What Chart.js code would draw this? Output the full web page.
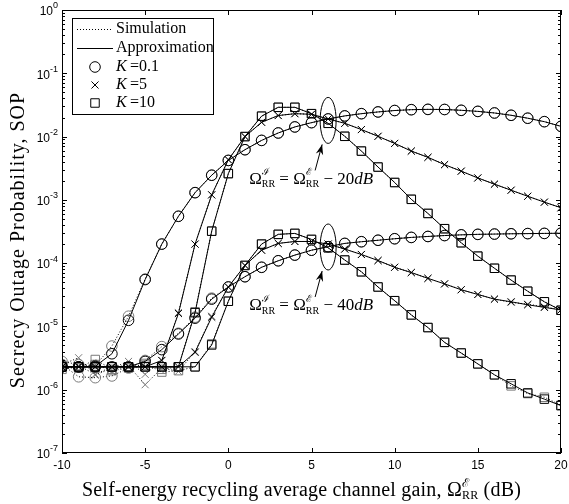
<!DOCTYPE html>
<html>
<head>
<meta charset="utf-8">
<script src="https://cdn.jsdelivr.net/npm/chart.js@4.4.1/dist/chart.umd.min.js"></script>
<style>
html, body { margin: 0; padding: 0; background: #fff; }
#wrap { width: 569px; height: 504px; }
</style>
</head>
<body>
<div id="wrap"><canvas id="sopChart" width="569" height="504"></canvas></div>
<script>
// x axis: self-energy recycling gain in dB
const gainDb = [-10, -9, -8, -7, -6, -5, -4, -3, -2, -1, 0, 1, 2, 3, 4, 5, 6, 7, 8, 9, 10,
                11, 12, 13, 14, 15, 16, 17, 18, 19, 20];
const xTickValues = [-10, -5, 0, 5, 10, 15, 20];
const yDecades = [0, -1, -2, -3, -4, -5, -6, -7];

// Omega_I = Omega_E - 20 dB
const approxUpperK01 = [2.3e-6, 2.3e-6, 2.35e-6, 3.7e-6, 1.25e-5, 5.5e-5, 2.0e-4, 5.5e-4, 1.3e-3, 2.45e-3,
  4.2e-3, 6.2e-3, 8.7e-3, 1.14e-2, 1.42e-2, 1.66e-2, 1.9e-2, 2.12e-2, 2.3e-2, 2.45e-2,
  2.58e-2, 2.66e-2, 2.69e-2, 2.68e-2, 2.6e-2, 2.5e-2, 2.36e-2, 2.17e-2, 1.95e-2, 1.72e-2, 1.45e-2];
const simUpperK01 = [2.8e-6, 2.5e-6, 2.4e-6, 4.9e-6, 1.45e-5, 5.6e-5, 2.0e-4, 5.5e-4, 1.3e-3, 2.45e-3,
  4.2e-3, 6.2e-3, 8.7e-3, 1.14e-2, 1.42e-2, 1.66e-2, 1.9e-2, 2.12e-2, 2.3e-2, 2.45e-2,
  2.58e-2, 2.66e-2, 2.69e-2, 2.68e-2, 2.6e-2, 2.5e-2, 2.36e-2, 2.17e-2, 1.95e-2, 1.72e-2, 1.45e-2];
const approxUpperK5 = [2.3e-6, 2.3e-6, 2.3e-6, 2.3e-6, 2.3e-6, 2.3e-6, 2.9e-6, 1.6e-5, 2.0e-4, 1.2e-3,
  4.3e-3, 1.0e-2, 1.68e-2, 2.15e-2, 2.3e-2, 2.25e-2, 1.9e-2, 1.62e-2, 1.29e-2, 1.01e-2,
  7.8e-3, 5.9e-3, 4.7e-3, 3.6e-3, 2.84e-3, 2.22e-3, 1.77e-3, 1.42e-3, 1.14e-3, 9.2e-4, 7.5e-4];
const simUpperK5 = [2.5e-6, 3.2e-6, 1.7e-6, 2.2e-6, 2.8e-6, 1.75e-6, 2.9e-6, 1.65e-5, 2.0e-4, 1.2e-3,
  4.3e-3, 1.0e-2, 1.68e-2, 2.15e-2, 2.3e-2, 2.25e-2, 1.9e-2, 1.62e-2, 1.29e-2, 1.01e-2,
  7.8e-3, 5.9e-3, 4.7e-3, 3.6e-3, 2.84e-3, 2.22e-3, 1.77e-3, 1.42e-3, 1.14e-3, 9.2e-4, 7.5e-4];
const approxUpperK10 = [2.3e-6, 2.3e-6, 2.3e-6, 2.3e-6, 2.3e-6, 2.3e-6, 2.3e-6, 2.3e-6, 1.65e-5, 3.2e-4,
  2.6e-3, 1.0e-2, 2.1e-2, 2.9e-2, 2.9e-2, 2.3e-2, 1.62e-2, 1.01e-2, 5.9e-3, 3.3e-3,
  1.88e-3, 1.02e-3, 6.1e-4, 3.5e-4, 2.1e-4, 1.29e-4, 8.3e-5, 5.4e-5, 3.6e-5, 2.45e-5, 1.8e-5];
const simUpperK10 = [2.3e-6, 2.2e-6, 3.0e-6, 2.1e-6, 2.3e-6, 2.45e-6, 2.1e-6, 2.3e-6, 1.7e-5, 3.2e-4,
  2.6e-3, 1.0e-2, 2.1e-2, 2.9e-2, 2.9e-2, 2.3e-2, 1.62e-2, 1.01e-2, 5.9e-3, 3.3e-3,
  1.88e-3, 1.02e-3, 6.1e-4, 3.5e-4, 2.1e-4, 1.29e-4, 8.3e-5, 5.4e-5, 3.6e-5, 2.45e-5, 1.8e-5];

// Omega_I = Omega_E - 40 dB
const approxLowerK01 = [2.3e-6, 2.3e-6, 2.3e-6, 2.3e-6, 2.3e-6, 2.8e-6, 4.3e-6, 7.6e-6, 1.35e-5, 2.7e-5,
  4.2e-5, 6.1e-5, 8.6e-5, 1.09e-4, 1.34e-4, 1.6e-4, 1.82e-4, 2.05e-4, 2.18e-4, 2.3e-4,
  2.43e-4, 2.55e-4, 2.64e-4, 2.73e-4, 2.8e-4, 2.85e-4, 2.88e-4, 2.91e-4, 2.93e-4, 2.95e-4, 2.97e-4];
const simLowerK01 = [2.5e-6, 1.6e-6, 1.55e-6, 1.65e-6, 2.2e-6, 2.9e-6, 4.8e-6, 7.8e-6, 1.4e-5, 2.8e-5,
  4.2e-5, 6.1e-5, 8.6e-5, 1.09e-4, 1.34e-4, 1.6e-4, 1.82e-4, 2.05e-4, 2.18e-4, 2.3e-4,
  2.43e-4, 2.55e-4, 2.64e-4, 2.73e-4, 2.8e-4, 2.85e-4, 2.88e-4, 2.91e-4, 2.93e-4, 2.95e-4, 2.97e-4];
const approxLowerK5 = [2.3e-6, 2.3e-6, 2.3e-6, 2.3e-6, 2.3e-6, 2.3e-6, 2.3e-6, 2.3e-6, 3.9e-6, 1.4e-5,
  4.2e-5, 9.2e-5, 1.6e-4, 2.05e-4, 2.2e-4, 2.2e-4, 2.0e-4, 1.67e-4, 1.37e-4, 1.1e-4,
  8.6e-5, 7.1e-5, 5.75e-5, 4.7e-5, 3.8e-5, 3.2e-5, 2.7e-5, 2.45e-5, 2.2e-5, 2.0e-5, 1.82e-5];
const simLowerK5 = [2.2e-6, 2.4e-6, 1.75e-6, 2.3e-6, 2.4e-6, 1.2e-6, 2.2e-6, 1.95e-6, 4.0e-6, 1.45e-5,
  4.2e-5, 9.2e-5, 1.6e-4, 2.05e-4, 2.2e-4, 2.2e-4, 2.0e-4, 1.67e-4, 1.37e-4, 1.1e-4,
  8.6e-5, 7.1e-5, 5.75e-5, 4.7e-5, 3.8e-5, 3.2e-5, 2.7e-5, 2.4e-5, 2.25e-5, 2.05e-5, 1.82e-5];
const approxLowerK10 = [2.3e-6, 2.3e-6, 2.3e-6, 2.3e-6, 2.3e-6, 2.3e-6, 2.3e-6, 2.3e-6, 2.3e-6, 5.1e-6,
  2.5e-5, 9.2e-5, 2.0e-4, 2.85e-4, 2.95e-4, 2.37e-4, 1.75e-4, 1.12e-4, 7.3e-5, 4.2e-5,
  2.55e-5, 1.52e-5, 9.6e-6, 5.6e-6, 3.8e-6, 2.56e-6, 1.72e-6, 1.24e-6, 8.9e-7, 7.1e-7, 5.6e-7];
const simLowerK10 = [2.1e-6, 2.3e-6, 2.5e-6, 2.0e-6, 2.2e-6, 2.6e-6, 1.9e-6, 2.0e-6, 2.3e-6, 5.3e-6,
  2.5e-5, 9.2e-5, 2.0e-4, 2.85e-4, 2.95e-4, 2.37e-4, 1.75e-4, 1.12e-4, 7.3e-5, 4.2e-5,
  2.55e-5, 1.52e-5, 9.6e-6, 5.6e-6, 3.8e-6, 2.56e-6, 1.72e-6, 1.15e-6, 8.7e-7, 7.6e-7, 5.7e-7];

// ellipse centres marking the two groups (dB, SOP)
const groupMarks = [
  { x: 6, y: 1.8e-2, gap: '20' },
  { x: 6, y: 1.8e-4, gap: '40' }
];

const SERIF = '"Liberation Serif", "Times New Roman", serif';
const SANS = '"Liberation Sans", Arial, sans-serif';

function pts(values) {
  return values.map((v, i) => ({ x: gainDb[i], y: v }));
}

const markerSize = { circle: 5.3, crossRot: 5, rect: 6 };

function approxSet(values, style) {
  return {
    data: pts(values),
    borderColor: '#000',
    borderWidth: 1,
    pointStyle: style,
    pointRadius: markerSize[style],
    pointBorderColor: '#000',
    pointBackgroundColor: 'rgba(0,0,0,0)',
    pointBorderWidth: 1,
    fill: false,
    tension: 0,
    order: 1
  };
}

function simSet(values, style) {
  return {
    data: pts(values),
    borderColor: '#000',
    borderWidth: 1,
    borderDash: [1, 2],
    pointStyle: style,
    pointRadius: markerSize[style],
    pointBorderColor: '#7a7a7a',
    pointBackgroundColor: 'rgba(0,0,0,0)',
    pointBorderWidth: 1,
    fill: false,
    tension: 0,
    order: 2
  };
}

// draws text runs with raised / lowered pieces
function drawRich(ctx, parts, x, y, align, spacing) {
  ctx.letterSpacing = (spacing || 0) + 'px';
  let w = 0;
  parts.forEach(p => {
    ctx.font = p.f;
    if (!p.keep) w += ctx.measureText(p.t).width;
  });
  let cx = align === 'center' ? x - w / 2 : (align === 'right' ? x - w : x);
  ctx.textAlign = 'left';
  parts.forEach(p => {
    ctx.font = p.f;
    ctx.fillText(p.t, cx, y + (p.dy || 0));
    if (!p.keep) cx += ctx.measureText(p.t).width;
  });
  ctx.letterSpacing = '0px';
}

function drawMarker(ctx, style, x, y) {
  const r = markerSize[style];
  ctx.beginPath();
  if (style === 'circle') {
    ctx.arc(x, y, r, 0, Math.PI * 2);
  } else if (style === 'rect') {
    const s = r * Math.SQRT1_2;
    ctx.rect(x - s, y - s, 2 * s, 2 * s);
  } else {
    const s = r * Math.SQRT1_2;
    ctx.moveTo(x - s, y - s); ctx.lineTo(x + s, y + s);
    ctx.moveTo(x + s, y - s); ctx.lineTo(x - s, y + s);
  }
  ctx.stroke();
}

const decorations = {
  id: 'decorations',
  afterDatasetsDraw(chart) {
    const { ctx, chartArea: a, scales } = chart;
    const xs = scales.x, ys = scales.y;
    ctx.save();
    ctx.strokeStyle = '#000';
    ctx.fillStyle = '#000';
    ctx.lineWidth = 1;
    ctx.setLineDash([]);

    // axes box
    ctx.strokeRect(a.left + 0.5, a.top + 0.5, a.right - a.left - 1, a.bottom - a.top - 1);

    // inward ticks on all four sides
    ctx.beginPath();
    xTickValues.forEach(v => {
      const px = Math.round(xs.getPixelForValue(v)) + 0.5;
      ctx.moveTo(px, a.bottom); ctx.lineTo(px, a.bottom - 5);
      ctx.moveTo(px, a.top); ctx.lineTo(px, a.top + 5);
    });
    yDecades.forEach(e => {
      const py = Math.round(ys.getPixelForValue(Math.pow(10, e))) + 0.5;
      ctx.moveTo(a.left, py); ctx.lineTo(a.left + 5, py);
      ctx.moveTo(a.right, py); ctx.lineTo(a.right - 5, py);
      if (e < 0) {
        for (let m = 2; m <= 9; m++) {
          const pm = Math.round(ys.getPixelForValue(m * Math.pow(10, e))) + 0.5;
          ctx.moveTo(a.left, pm); ctx.lineTo(a.left + 3, pm);
          ctx.moveTo(a.right, pm); ctx.lineTo(a.right - 3, pm);
        }
      }
    });
    ctx.stroke();

    // tick labels
    ctx.textBaseline = 'middle';
    ctx.textAlign = 'center';
    ctx.font = '12px ' + SANS;
    xTickValues.forEach(v => {
      ctx.fillText(String(v), xs.getPixelForValue(v), a.bottom + 13);
    });
    yDecades.forEach(e => {
      const py = ys.getPixelForValue(Math.pow(10, e));
      drawRich(ctx, [
        { t: '10', f: '12px ' + SANS, dy: 2 },
        { t: String(e), f: '9px ' + SANS, dy: -4 }
      ], a.left - 4, py, 'right');
    });

    // axis titles
    const tf = '20px ' + SERIF, sf = '12px ' + SERIF;
    drawRich(ctx, [
      { t: 'Self-energy recycling average channel gain, Ω', f: tf },
      { t: 'ℰ', f: sf, dy: -7, keep: true },
      { t: 'RR', f: sf, dy: 5 },
      { t: ' (dB)', f: tf }
    ], (a.left + a.right) / 2 - 10, a.bottom + 38, 'center', 0.2);

    ctx.save();
    ctx.translate(19, 240);
    ctx.rotate(-Math.PI / 2);
    drawRich(ctx, [{ t: 'Secrecy Outage Probability, SOP', f: tf }], 0, 0, 'center', 1);
    ctx.restore();

    // group ellipses, arrows and labels
    groupMarks.forEach(g => {
      const cx = xs.getPixelForValue(g.x);
      const cy = ys.getPixelForValue(g.y);
      ctx.beginPath();
      ctx.ellipse(cx, cy, 8, 23, 0, 0, Math.PI * 2);
      ctx.stroke();

      const tipX = cx - 6, tipY = cy + 24;
      const tailX = cx - 13, tailY = cy + 50;
      ctx.beginPath();
      ctx.moveTo(tailX, tailY); ctx.lineTo(tipX, tipY);
      ctx.stroke();
      const ang = Math.atan2(tipY - tailY, tipX - tailX);
      ctx.beginPath();
      ctx.moveTo(tipX, tipY);
      ctx.lineTo(tipX - 11 * Math.cos(ang - 0.35), tipY - 11 * Math.sin(ang - 0.35));
      ctx.lineTo(tipX - 7 * Math.cos(ang), tipY - 7 * Math.sin(ang));
      ctx.lineTo(tipX - 11 * Math.cos(ang + 0.35), tipY - 11 * Math.sin(ang + 0.35));
      ctx.closePath();
      ctx.fill();

      const mf = '17px ' + SERIF, msf = '10px ' + SERIF;
      drawRich(ctx, [
        { t: 'Ω', f: mf },
        { t: 'ℐ', f: msf, dy: -7, keep: true },
        { t: 'RR', f: msf, dy: 5 },
        { t: ' = Ω', f: mf },
        { t: 'ℰ', f: msf, dy: -7, keep: true },
        { t: 'RR', f: msf, dy: 5 },
        { t: ' − ' + g.gap, f: mf },
        { t: 'dB', f: 'italic ' + mf }
      ], cx - 79, cy + 59, 'left');
    });

    // legend
    const lx = 72, ly = 18, lw = 141, lh = 96;
    ctx.fillStyle = '#fff';
    ctx.fillRect(lx, ly, lw, lh);
    ctx.strokeRect(lx + 0.5, ly + 0.5, lw, lh);
    ctx.fillStyle = '#000';
    const rows = [29, 48, 67, 85, 103];
    ctx.beginPath();
    ctx.setLineDash([1, 2]);
    ctx.moveTo(77, rows[0] + 0.5); ctx.lineTo(113, rows[0] + 0.5);
    ctx.stroke();
    ctx.setLineDash([]);
    ctx.beginPath();
    ctx.moveTo(77, rows[1] + 0.5); ctx.lineTo(113, rows[1] + 0.5);
    ctx.stroke();
    drawMarker(ctx, 'circle', 95, rows[2]);
    drawMarker(ctx, 'crossRot', 95, rows[3]);
    drawMarker(ctx, 'rect', 95, rows[4]);
    ctx.textBaseline = 'middle';
    const lf = '16px ' + SERIF;
    drawRich(ctx, [{ t: 'Simulation', f: lf }], 116, rows[0], 'left');
    drawRich(ctx, [{ t: 'Approximation', f: lf }], 116, rows[1], 'left');
    [['0.1', rows[2]], ['5', rows[3]], ['10', rows[4]]].forEach(([k, ry]) => {
      drawRich(ctx, [{ t: 'K', f: 'italic ' + lf }, { t: '\u2009=' + k, f: lf }], 116, ry, 'left');
    });
    ctx.restore();
  }
};

const ctx = document.getElementById('sopChart').getContext('2d');
new Chart(ctx, {
  type: 'line',
  data: {
    datasets: [
      approxSet(approxUpperK01, 'circle'),
      approxSet(approxUpperK5, 'crossRot'),
      approxSet(approxUpperK10, 'rect'),
      approxSet(approxLowerK01, 'circle'),
      approxSet(approxLowerK5, 'crossRot'),
      approxSet(approxLowerK10, 'rect'),
      simSet(simUpperK01, 'circle'),
      simSet(simUpperK5, 'crossRot'),
      simSet(simUpperK10, 'rect'),
      simSet(simLowerK01, 'circle'),
      simSet(simLowerK5, 'crossRot'),
      simSet(simLowerK10, 'rect')
    ]
  },
  options: {
    responsive: false,
    animation: false,
    layout: { padding: { top: 10, right: 8, left: 0, bottom: 0 } },
    plugins: { legend: { display: false }, tooltip: { enabled: false } },
    scales: {
      x: {
        type: 'linear',
        min: -10,
        max: 20,
        grid: { display: false },
        border: { display: false },
        ticks: { display: false },
        afterFit(scale) { scale.height = 51; }
      },
      y: {
        type: 'logarithmic',
        min: 1e-7,
        max: 1,
        grid: { display: false },
        border: { display: false },
        ticks: { display: false },
        afterFit(scale) { scale.width = 62; }
      }
    }
  },
  plugins: [decorations]
});
</script>
</body>
</html>
